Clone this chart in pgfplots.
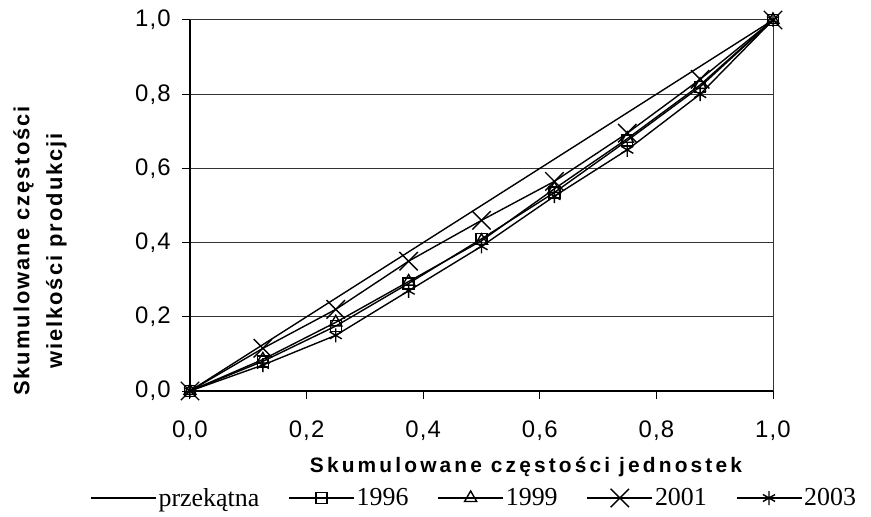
\documentclass[border=0pt]{standalone}
\usepackage{fontspec}
\setmainfont{Liberation Sans}
\newfontfamily\tickfont[LetterSpace=5]{Liberation Sans}
\newfontfamily\labfont[LetterSpace=15]{Liberation Sans}
\newfontfamily\ylabfont[LetterSpace=9]{Liberation Sans}
\newfontfamily\legfont{Liberation Serif}
\usepackage{pgfplots}
\pgfplotsset{compat=1.18}
\pgfplotstableread{
x diag y1996 y1999 y2001 y2003
0     0     0     0     0     0
0.125 0.125 0.08  0.085 0.115 0.07
0.25  0.25  0.175 0.185 0.22  0.15
0.375 0.375 0.29  0.295 0.35  0.27
0.5   0.5   0.41  0.405 0.46  0.39
0.625 0.625 0.535 0.545 0.565 0.525
0.75  0.75  0.675 0.68  0.695 0.65
0.875 0.875 0.82  0.825 0.84  0.80
1     1     1     1     1     1
}\datatable
\begin{document}
\begin{tikzpicture}
\path[use as bounding box] (-190bp,-126bp) rectangle (681bp,391bp);
\begin{axis}[
  scale only axis, width=583bp, height=371bp,
  xmin=0, xmax=1, ymin=0, ymax=1,
  axis lines*=left,
  axis line style={black, line width=2bp},
  tick align=outside, major tick length=8bp,
  tick style={black, line width=1bp},
  xtick={0,0.2,0.4,0.6,0.8,1},
  ytick={0,0.2,0.4,0.6,0.8,1},
  xticklabels={{0,0},{0,2},{0,4},{0,6},{0,8},{1,0}},
  yticklabels={{0,0},{0,2},{0,4},{0,6},{0,8},{1,0}},
  ticklabel style={font=\tickfont\fontsize{24}{28}\selectfont},
  yticklabel style={anchor=east, inner sep=0pt, xshift=-11bp},
  xticklabel style={anchor=north, inner sep=0pt, yshift=-22bp},
  ymajorgrids, grid style={black!80, line width=1bp},
  clip=false,
  xlabel={Skumulowane częstości jednostek},
  xlabel style={at={(axis description cs:0.5763,-0.221)}, anchor=base, inner sep=0pt,
    font=\labfont\bfseries\fontsize{21}{25}\selectfont},
  ylabel={Skumulowane częstości\\wielkości produkcji},
  ylabel style={at={(axis description cs:-0.3036,0.3774)}, anchor=north, align=center, inner sep=0pt,
    font=\ylabfont\bfseries\fontsize{22}{33}\selectfont},
  every axis plot/.append style={black, line width=1.4bp, mark options={solid}},
  legend columns=5,
  legend cell align=left,
  legend style={at={(axis description cs:-0.1715,-0.2884)}, anchor=west, draw=none, fill=none,
    inner sep=0pt, font=\legfont\fontsize{26}{30}\selectfont,
    /tikz/every even column/.append style={column sep=27bp}},
  legend image code/.code={\draw[mark repeat=2, mark phase=2, #1] plot coordinates {(0bp,0bp) (32.5bp,0bp) (65bp,0bp)};},
]
\draw[black!80, line width=1bp] (rel axis cs:1,0) -- (rel axis cs:1,1);
\addplot[no markers] table[x=x, y=diag] {\datatable};
\addlegendentry{przekątna}
\addplot[mark=square, mark size=5.5bp] table[x=x, y=y1996] {\datatable};
\addlegendentry{1996}
\addplot[mark=triangle, mark size=7bp] table[x=x, y=y1999] {\datatable};
\addlegendentry{1999}
\addplot[mark=x, mark size=13bp] table[x=x, y=y2001] {\datatable};
\addlegendentry{2001}
\addplot[mark=asterisk, mark size=7bp] table[x=x, y=y2003] {\datatable};
\addlegendentry{2003}
\end{axis}
\end{tikzpicture}
\end{document}
